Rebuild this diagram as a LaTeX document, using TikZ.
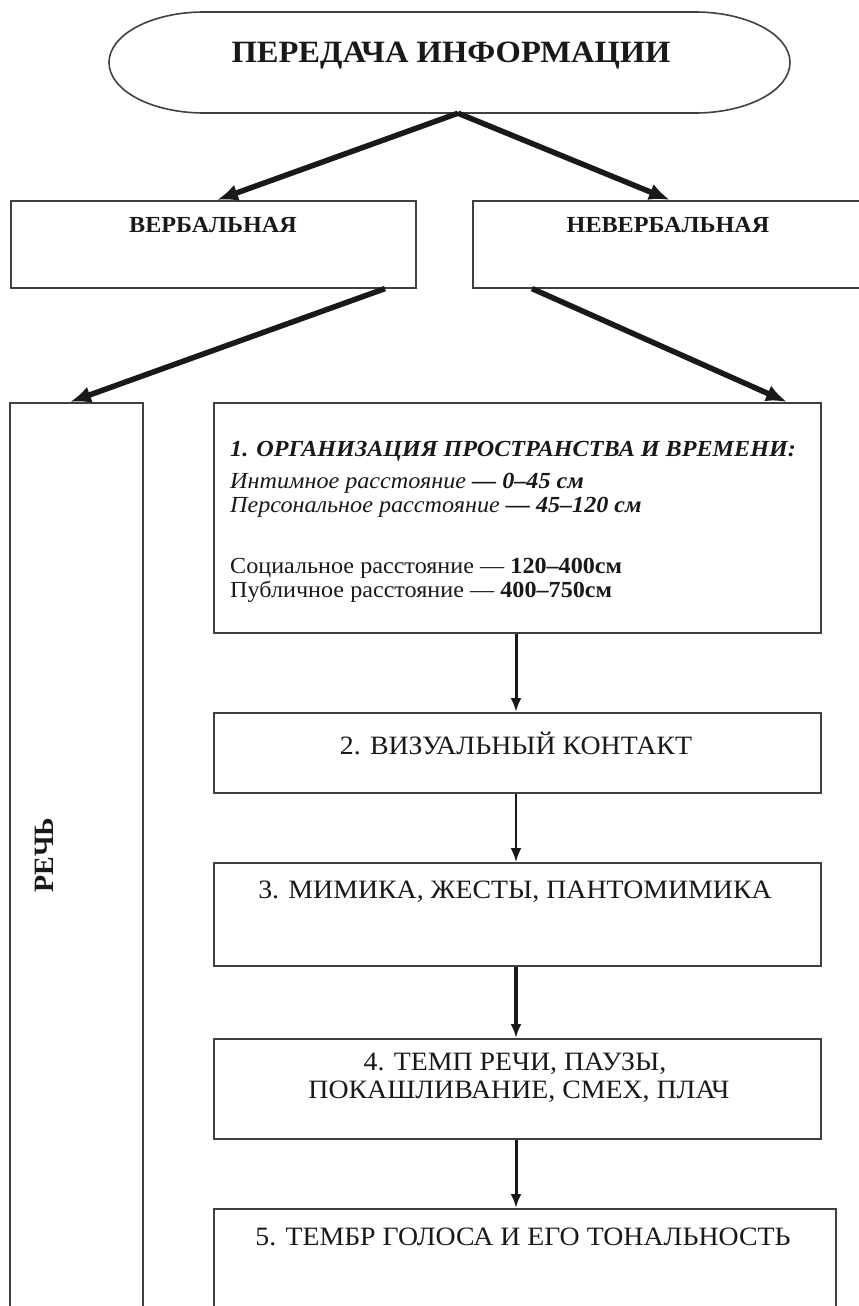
\documentclass[tikz,border=0pt]{standalone}
\usepackage{fontspec}
\setmainfont[FakeStretch=1.05]{Liberation Serif}
\newfontfamily\plainserif{Liberation Serif}
\usetikzlibrary{arrows.meta,calc}
\begin{document}
\begin{tikzpicture}[x=1pt,y=1pt,
  box/.style={draw=black!75, line width=1.6pt, inner sep=0pt, anchor=north west},
  lbl/.style={anchor=base west, inner sep=0pt, text=black!90},
  ctr/.style={anchor=base, inner sep=0pt, text=black!90},
  bigarr/.style={-{Latex[length=21pt,width=17pt]}, line width=5.5pt, draw=black!90},
  varr/.style={-{Latex[length=14pt,width=11pt]}, line width=#1, draw=black!90},
  freg/.style={font=\fontsize{26.5}{28}\selectfont},
  fone/.style={font=\fontsize{23}{24}\selectfont}]
\useasboundingbox (0,0) rectangle (859,-1306);
% title shape
\node[inner sep=0pt, minimum width=681, minimum height=101] (title) at (449.5,-62.5) {};
\draw[draw=black!75, line width=1.6pt] (204,-12) -- (695,-12)
  arc[start angle=90, end angle=-90, x radius=95, y radius=50.5]
  -- (204,-113)
  arc[start angle=270, end angle=90, x radius=95, y radius=50.5] -- cycle;
\node[ctr, font=\fontsize{31}{33}\selectfont\bfseries] (ttl) at (451,-63) {ПЕРЕДАЧА ИНФОРМАЦИИ};
% second level
\node[box, minimum width=405, minimum height=87] (verb) at (10,-200) {};
\node[box, minimum width=410, minimum height=87] (nonverb) at (472,-200) {};
\node[ctr, font=\fontsize{23}{25}\selectfont\bfseries] (verbt) at (213,-232) {ВЕРБАЛЬНАЯ};
\node[ctr, font=\fontsize{23}{25}\selectfont\bfseries] (nonverbt) at (668,-232) {НЕВЕРБАЛЬНАЯ};
% speech column
\node[box, minimum width=133, minimum height=930] (speech) at (9,-402) {};
\node[inner sep=0pt, rotate=90, font=\plainserif\fontsize{28}{30}\selectfont\bfseries, text=black!90] (speecht) at (44,-855) {РЕЧЬ};
% boxes
\node[box, minimum width=607, minimum height=230] (b1) at (213,-402) {};
\node[box, minimum width=607, minimum height=80] (b2) at (213,-712) {};
\node[box, minimum width=607, minimum height=103] (b3) at (213,-862) {};
\node[box, minimum width=607, minimum height=100] (b4) at (213,-1038) {};
\node[box, minimum width=622, minimum height=130] (b5) at (213,-1208) {};
% box 1 text
\node[lbl, fone] (h1) at (230,-456) {\bfseries\itshape 1. ОРГАНИЗАЦИЯ ПРОСТРАНСТВА И ВРЕМЕНИ:};
\node[lbl, fone] (l1) at (230,-488) {\itshape Интимное расстояние \textbf{— 0–45 см}};
\node[lbl, fone] (l2) at (230,-512) {\itshape Персональное расстояние \textbf{— 45–120 см}};
\node[lbl, fone] (l3) at (230,-573) {Социальное расстояние — \textbf{120–400см}};
\node[lbl, fone] (l4) at (230,-597) {Публичное расстояние — \textbf{400–750см}};
% other box texts
\node[ctr, freg] (t2) at (516,-754) {2. ВИЗУАЛЬНЫЙ КОНТАКТ};
\node[ctr, freg] (t3) at (515,-898) {3. МИМИКА, ЖЕСТЫ, ПАНТОМИМИКА};
\node[ctr, freg] (t4a) at (515,-1070) {4. ТЕМП РЕЧИ, ПАУЗЫ,};
\node[ctr, freg] (t4b) at (519,-1098) {ПОКАШЛИВАНИЕ, СМЕХ, ПЛАЧ};
\node[ctr, freg] (t5) at (523,-1245) {5. ТЕМБР ГОЛОСА И ЕГО ТОНАЛЬНОСТЬ};
% connectors
\draw[bigarr] ($(title.south)+(8.5,0)$) -- ($(verb.north west)+(207,0)$);
\draw[bigarr] ($(title.south)+(8.5,0)$) -- ($(nonverb.north west)+(198,0)$);
\draw[bigarr] ($(verb.south west)+(375,0)$) -- ($(speech.north west)+(61,0)$);
\draw[bigarr] ($(nonverb.south west)+(60,0)$) -- ($(b1.north west)+(574,0)$);
\draw[varr=3pt] ($(b1.south west)+(303,0)$) -- ($(b2.north west)+(303,0)$);
\draw[varr=2pt] ($(b2.south west)+(303,0)$) -- ($(b3.north west)+(303,0)$);
\draw[varr=3.5pt] ($(b3.south west)+(303,0)$) -- ($(b4.north west)+(303,0)$);
\draw[varr=3pt] ($(b4.south west)+(303,0)$) -- ($(b5.north west)+(303,0)$);
\end{tikzpicture}
\end{document}
